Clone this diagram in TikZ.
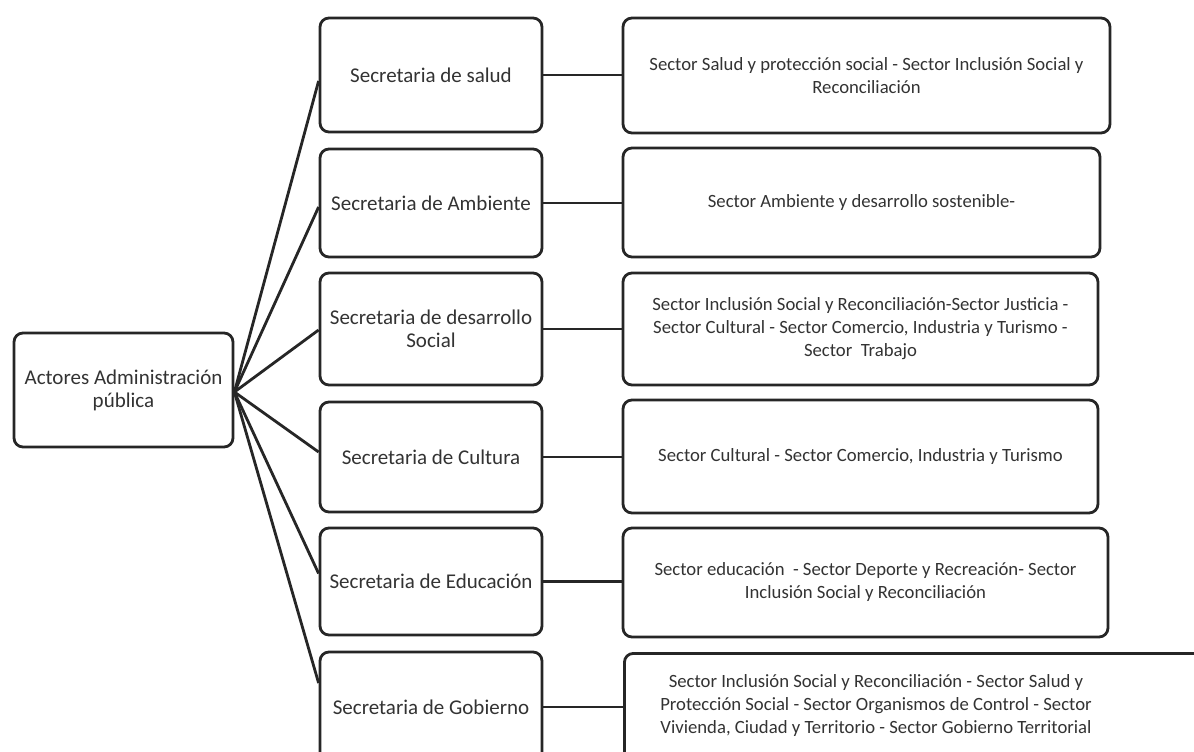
\documentclass[tikz,border=0pt]{standalone}
\usepackage{fontspec}
\setmainfont{Carlito}
\begin{document}
\begin{tikzpicture}[x=1pt,y=-1pt,
  box/.style={draw=black!85, line width=2.8pt, rounded corners=9pt, fill=white,
    align=center, inner sep=0pt, text=black!80,
    font=\fontsize{18.7}{23}\selectfont},
  lbox/.style={box, font=\fontsize{21}{23}\selectfont},
  link/.style={draw=black!85, line width=2.8pt},
  txt/.style={align=center, inner sep=0pt, text=black!80,
    font=\fontsize{18.7}{23}\selectfont}]
\clip (0,0) rectangle (1194,752);
\fill[white] (0,0) rectangle (1194,752);
% root
\node[lbox, minimum width=219, minimum height=114] (root) at (123.5,390) {Actores Administración\\pública};
% middle column
\node[lbox, minimum width=222, minimum height=114] (m1) at (431,75) {Secretaria de salud};
\node[lbox, minimum width=222, minimum height=108] (m2) at (431,203) {Secretaria de Ambiente};
\node[lbox, minimum width=222, minimum height=112] (m3) at (431,329) {Secretaria de desarrollo\\Social};
\node[lbox, minimum width=222, minimum height=110] (m4) at (431,457) {Secretaria de Cultura};
\node[lbox, minimum width=222, minimum height=107] (m5) at (431,581.5) {Secretaria de Educación};
\node[lbox, minimum width=222, minimum height=110] (m6) at (431,707) {Secretaria de Gobierno};
% right column
\node[box, minimum width=487, minimum height=115] (r1) at (866.5,75.5) {Sector Salud y protección social - Sector Inclusión Social y\\Reconciliación};
\node[box, minimum width=477, minimum height=109] (r2) at (861.5,202.5) {Sector Ambiente y desarrollo sostenible-};
\node[box, minimum width=475, minimum height=112] (r3) at (860.5,329) {Sector Inclusión Social y Reconciliación-Sector Justicia -\\Sector Cultural - Sector Comercio, Industria y Turismo -\\Sector\ \ Trabajo};
\node[box, minimum width=475, minimum height=113] (r4) at (860.5,456.5) {Sector Cultural - Sector Comercio, Industria y Turismo};
\node[box, minimum width=485, minimum height=109] (r5) at (865.5,582.5) {Sector educación\ \ - Sector Deporte y Recreación- Sector\\Inclusión Social y Reconciliación};
\node[box, minimum width=580, minimum height=110, anchor=north west] (r6) at (623,652) {};
\node[txt] (t6) at (876,706) {Sector Inclusión Social y Reconciliación - Sector Salud y\\Protección Social - Sector Organismos de Control - Sector\\Vivienda, Ciudad y Territorio - Sector Gobierno Territorial};
% fan connectors
\coordinate (hub) at ([yshift=-2pt]root.east);
\draw[link] (hub) -- ([yshift=-6pt]m1.west);
\draw[link] (hub) -- ([yshift=-4pt]m2.west);
\draw[link] (hub) -- ([yshift=-1pt]m3.west);
\draw[link] (hub) -- ([yshift=5pt]m4.west);
\draw[link] (hub) -- ([yshift=8pt]m5.west);
\draw[link] (hub) -- ([yshift=24pt]m6.west);
% horizontal connectors
\draw[link] (m1.east) -- (m1.east -| r1.west);
\draw[link] (m2.east) -- (m2.east -| r2.west);
\draw[link] (m3.east) -- (m3.east -| r3.west);
\draw[link] (m4.east) -- (m4.east -| r4.west);
\draw[link] (m5.east) -- (m5.east -| r5.west);
\draw[link] (m6.east) -- (m6.east -| r6.west);
\end{tikzpicture}
\end{document}
